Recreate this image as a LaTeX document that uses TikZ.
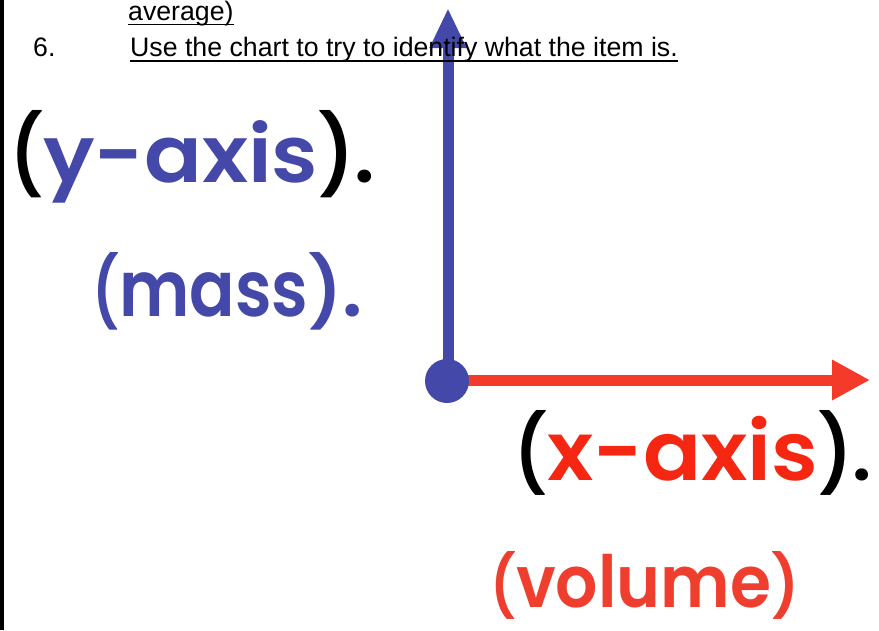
\documentclass[tikz,border=0pt]{standalone}
\usepackage{fontspec}
\usepackage{graphicx}
\setmainfont{Liberation Sans}
\newfontfamily\comic{Poppins}[BoldFont={Poppins SemiBold}]
\usetikzlibrary{arrows.meta}
\definecolor{axblue}{RGB}{68,72,168}
\definecolor{axred}{RGB}{244,58,40}
\definecolor{txred}{RGB}{245,38,18}
\definecolor{volred}{RGB}{240,62,46}
% paren: width, height above baseline, glyph
\newcommand\pn[3]{\resizebox{#1pt}{#2pt}{#3}}
% letters: width, font size, text
\newcommand\lt[3]{\resizebox{#1pt}{\height}{\fontsize{#2}{#2}\selectfont #3}}
\tikzset{
  hdr/.style={anchor=base west, inner sep=0pt, font=\fontsize{26.7}{30}\selectfont},
  lab/.style={anchor=base west, inner sep=0pt, font=\comic\bfseries},
  uline/.style={line width=1.6pt, black},
  yaxis/.style={line width=11pt, axblue, -{Triangle[length=40pt,width=34pt]}},
  xaxis/.style={line width=11pt, axred, -{Triangle[length=38pt,width=38pt]}},
  dot/.style={circle, fill=axblue, minimum size=44pt, inner sep=0pt}
}
\begin{document}
\begin{tikzpicture}[x=1pt,y=-1pt]
\useasboundingbox (0,0) rectangle (879,630);
\fill[white] (0,0) rectangle (879,630);
\fill[black] (0,0) rectangle (4,630);
% axes
\coordinate (ytip) at (448,8);
\coordinate (xtip) at (870,380);
\draw[yaxis] (448,381) -- (ytip);
\draw[xaxis] (455,380) -- (xtip);
\node[dot] (o) at (447,381) {};
% header text
\node[hdr] (avg) at (128,20) {average)};
\node[hdr] (six) at (33,56.5) {6.};
\node[hdr] (use) at (130,56.5) {Use the chart to try to identify what the item is.};
\draw[uline] ([yshift=-4.5pt]avg.base west) -- ([yshift=-4.5pt]avg.base east);
\draw[uline] ([yshift=-4.5pt]use.base west) -- ([yshift=-4.5pt]use.base east);
% axis labels
\node[lab] (ylab) at (10,182) {\pn{33}{72}{(}\textcolor{axblue}{\lt{275}{79}{y-axis}}\pn{36}{72}{)}\fontsize{79}{79}\selectfont.};
\node[lab, axblue] (mlab) at (92,316) {\pn{27}{64}{(}\lt{189}{78}{mass}\pn{34}{64}{)}\fontsize{78}{78}\selectfont.};
\node[lab] (xlab) at (514,480) {\pn{33}{70}{(}\textcolor{txred}{\lt{271}{82}{x-axis}}\pn{34}{70}{)}\fontsize{74}{74}\selectfont.};
\node[lab, volred] (vlab) at (490,607) {\pn{26}{56}{(}\lt{255}{72}{volume}\pn{28}{56}{)}};
\end{tikzpicture}
\end{document}
